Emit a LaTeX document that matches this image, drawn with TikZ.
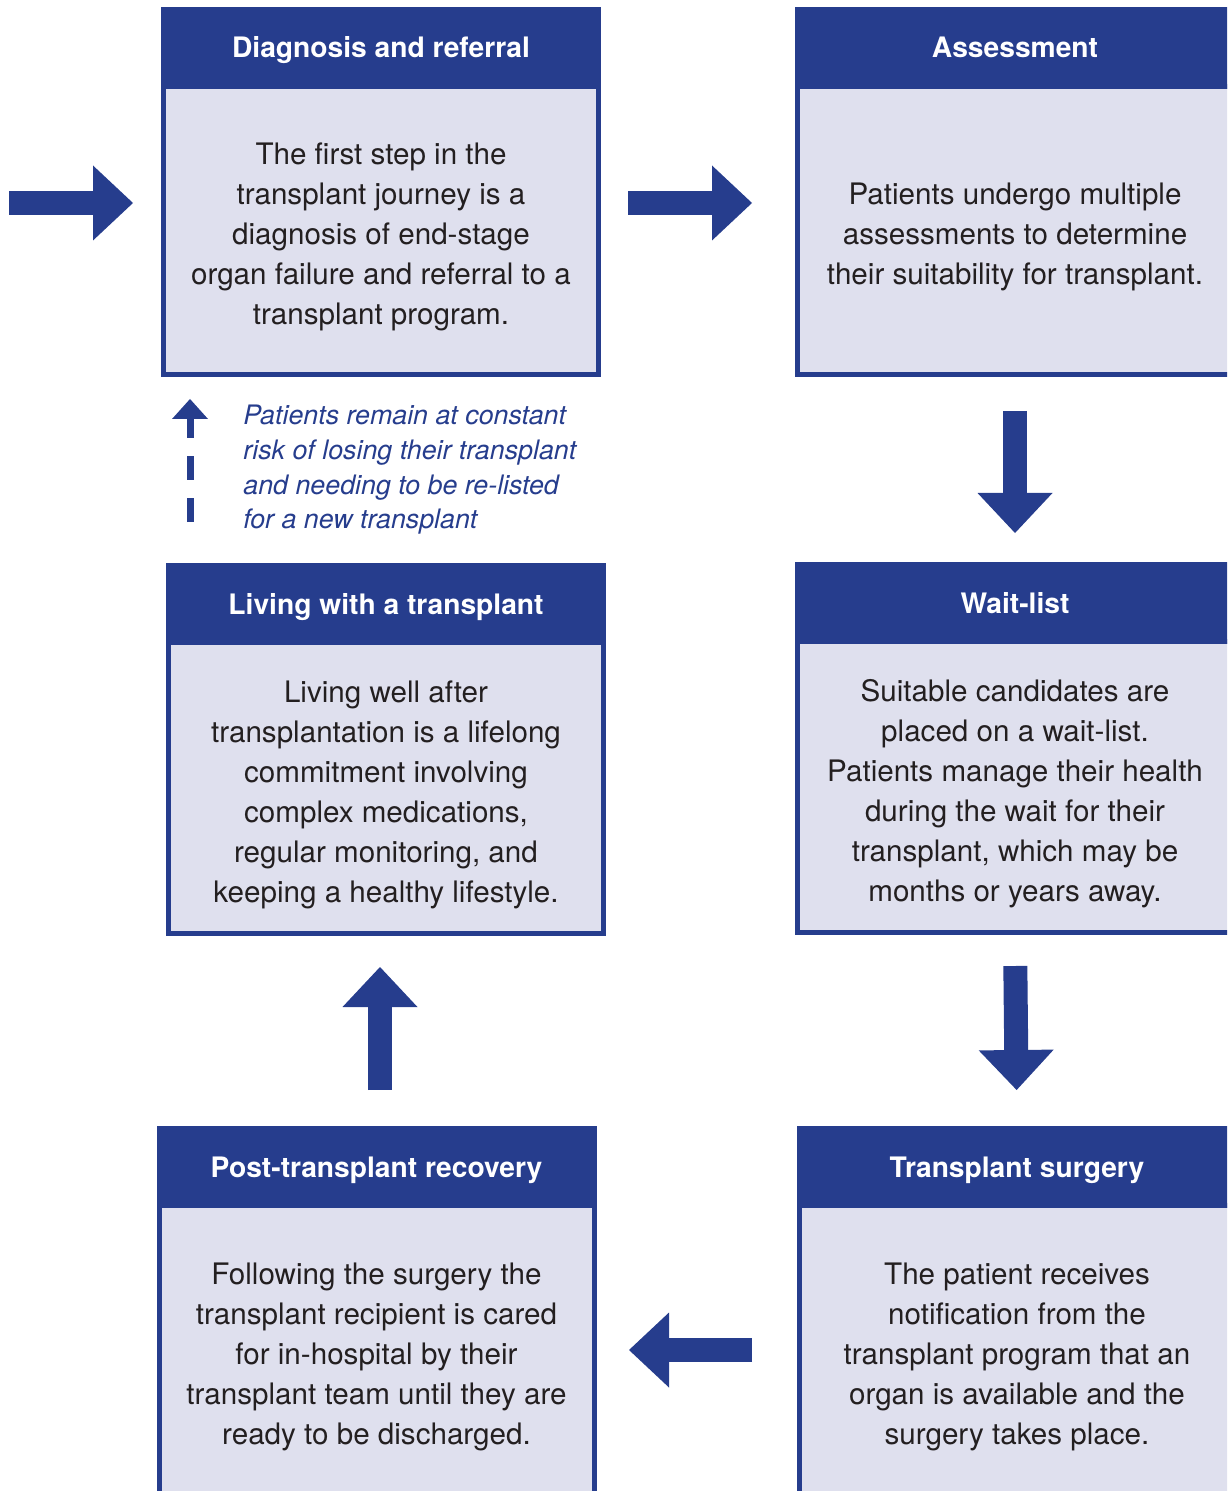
\documentclass[tikz,border=0pt]{standalone}
\usepackage{fontspec}
\setmainfont{TeX Gyre Heros}
\usetikzlibrary{arrows.meta,positioning}

\definecolor{tpblue}{RGB}{38,61,141}
\definecolor{tpfill}{RGB}{223,224,238}
\definecolor{tpink}{RGB}{35,31,32}

% extra room above the first line of a stage text
\def\bodystrut{\rule{0pt}{17.5pt}}

\tikzset{
	stagebody/.style={draw=tpblue, line width=2.5pt, fill=tpfill, text=tpink,
		minimum width=217.5pt, inner sep=0pt, align=center,
		font=\fontsize{14.8}{20}\selectfont},
	stagehead/.style={fill=tpblue, text=white, minimum width=220pt,
		minimum height=41pt, inner sep=0pt, outer sep=0pt,
		text height=10pt, text depth=0pt,
		font=\fontsize{14.1}{17}\selectfont\bfseries},
	flow/.style={draw=tpblue, line width=12pt,
		-{Triangle[length=20pt, width=37.5pt, line width=0pt]}},
	backflow/.style={draw=tpblue, line width=3.5pt, dash pattern=on 12pt off 9pt,
		-{Triangle[length=10pt, width=18pt, line width=0pt]}},
	note/.style={text=tpblue, align=left, inner sep=0pt,
		font=\fontsize{13.4}{17.3}\selectfont\itshape}
}

\begin{document}
\begin{tikzpicture}[x=0.5pt, y=-0.5pt]
			%%%%% START %%%%%
			\useasboundingbox (0, 0) rectangle (1227, 1491);
			\clip (0, 0) rectangle (1227, 1491);
			
			% top row
			\node[stagebody, minimum height=144pt] (diag) at (381, 230.5)
				{\bodystrut The first step in the\\transplant journey is a\\diagnosis of end-stage\\organ failure and referral to a\\transplant program.};
			\node[stagehead, above=-2.5pt of diag] (diaghead) {Diagnosis and referral};
			
			\node[stagebody, minimum height=144pt] (assess) at (1015, 230.5)
				{\bodystrut Patients undergo multiple\\assessments to determine\\their suitability for transplant.};
			\node[stagehead, above=-2.5pt of assess] (assesshead) {Assessment};
			
			% middle row
			\node[stagebody, minimum height=145.5pt] (living) at (386, 788)
				{\bodystrut Living well after\\transplantation is a lifelong\\commitment involving\\complex medications,\\regular monitoring, and\\keeping a healthy lifestyle.};
			\node[stagehead, above=-2.5pt of living] (livinghead) {Living with a transplant};
			
			\node[stagebody, minimum height=145.5pt] (wait) at (1015, 787)
				{\bodystrut Suitable candidates are\\placed on a wait-list.\\Patients manage their health\\during the wait for their\\transplant, which may be\\months or years away.};
			\node[stagehead, above=-2.5pt of wait] (waithead) {Wait-list};
			
			% bottom row
			\node[stagebody, minimum height=144.5pt] (post) at (376.5, 1350)
				{\bodystrut Following the surgery the\\transplant recipient is cared\\for in-hospital by their\\transplant team until they are\\ready to be discharged.};
			\node[stagehead, above=-2.5pt of post] (posthead) {Post-transplant recovery};
			
			\node[stagebody, minimum height=144.5pt] (surgery) at (1017, 1350)
				{\bodystrut The patient receives\\notification from the\\transplant program that an\\organ is available and the\\surgery takes place.};
			\node[stagehead, above=-2.5pt of surgery] (surgeryhead) {Transplant surgery};
			
			% note beside the dashed arrow
			\node[note, anchor=north west] (risk) at (243, 405)
				{Patients remain at constant\\risk of losing their transplant\\and needing to be re-listed\\for a new transplant};
			
			% arrows
			\coordinate (start) at (9, 203);
			\draw[flow, shorten >=14pt] (start) -- (diag.west |- start);
			\draw[flow, shorten <=13.5pt, shorten >=21.5pt] (diag.east |- start) -- (assess.west |- start);
			\draw[flow, shorten <=17pt, shorten >=14.5pt] (assess.south) -- (waithead.north);
			\draw[flow, shorten <=15.5pt, shorten >=18pt] (wait.south) -- (surgeryhead.north);
			\draw[flow, shorten <=22.5pt, shorten >=16.25pt] (surgery.west) -- (post.east);
			\draw[flow, shorten <=18pt, shorten >=15.5pt] ([xshift=1.75pt]posthead.north) -- ([xshift=1.75pt]posthead.north |- living.south);
			\draw[backflow, shorten <=20.5pt, shorten >=11pt] ([xshift=-98pt]livinghead.north) -- ([xshift=-98pt]livinghead.north |- diag.south);
			
			%%%%% END %%%%%
\end{tikzpicture}
\end{document}
